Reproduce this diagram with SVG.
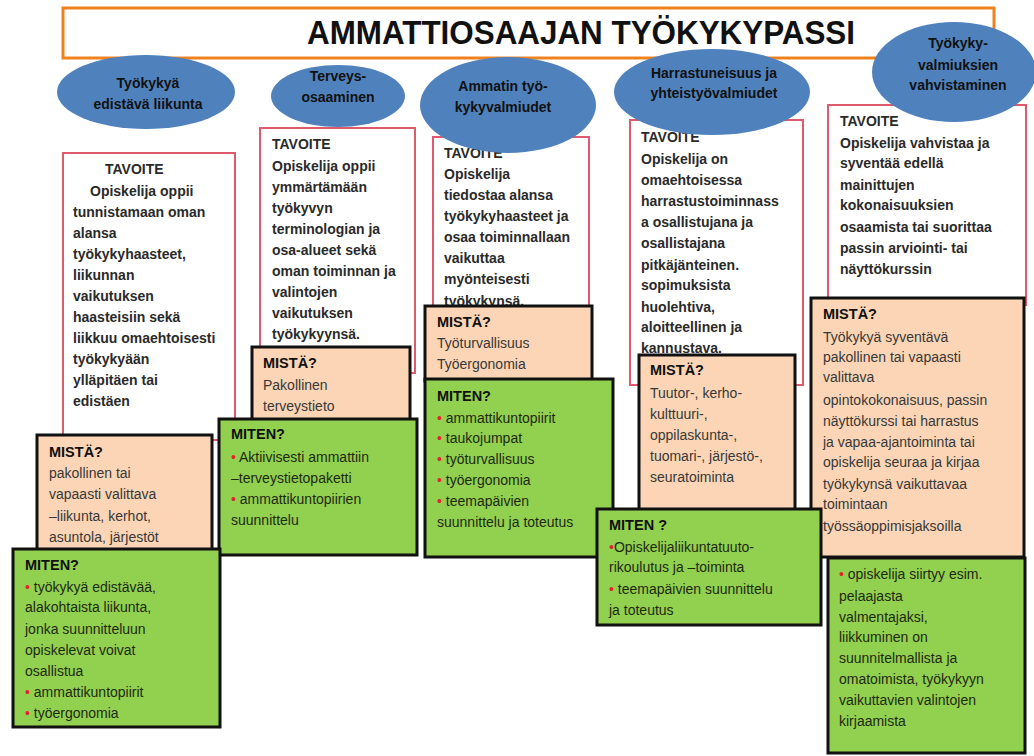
<svg xmlns="http://www.w3.org/2000/svg" width="1034" height="756" viewBox="0 0 1034 756">
<style>
text{font-family:"Liberation Sans",Arial,sans-serif}
.tav{font-size:14px;font-weight:bold;fill:#2a2a2a}
.bd{font-size:14px;fill:#383838}
.gb{font-size:14px;fill:#1e2a10}
.hd{font-size:14.5px;font-weight:bold;fill:#111}
.el{font-size:14px;font-weight:bold;fill:#111;text-anchor:middle}
.r{fill:#E8212E}
.tv{fill:#fff;stroke:#E05A6E;stroke-width:2}
.ms{fill:#FBD5B5;stroke:#111;stroke-width:3}
.mt{fill:#92D050;stroke:#111;stroke-width:3}
.ov{fill:#4F81BD}
</style>
<g id="title">
<rect x="63" y="8" width="931" height="50" fill="#fff" stroke="#F0821E" stroke-width="3"/>
<text x="581" y="44" text-anchor="middle" font-size="33" font-weight="bold" fill="#111" textLength="548" lengthAdjust="spacingAndGlyphs">AMMATTIOSAAJAN TYÖKYKYPASSI</text>
</g>
<g id="tavoite1">
<rect class="tv" x="63" y="153" width="172" height="287"/>
<text class="tav"><tspan x="105" y="174">TAVOITE</tspan><tspan x="90" y="196">Opiskelija oppii</tspan><tspan x="73" y="217">tunnistamaan oman</tspan><tspan x="73" y="238">alansa</tspan><tspan x="73" y="259">työkykyhaasteet,</tspan><tspan x="73" y="280">liikunnan</tspan><tspan x="73" y="301">vaikutuksen</tspan><tspan x="73" y="322">haasteisiin sekä</tspan><tspan x="73" y="343">liikkuu omaehtoisesti</tspan><tspan x="73" y="364">työkykyään</tspan><tspan x="73" y="385">ylläpitäen tai</tspan><tspan x="73" y="406">edistäen</tspan></text>
</g>
<g id="tavoite2">
<rect class="tv" x="260" y="128" width="155" height="245"/>
<text class="tav"><tspan x="272" y="149">TAVOITE</tspan><tspan x="272" y="171">Opiskelija oppii</tspan><tspan x="272" y="192">ymmärtämään</tspan><tspan x="272" y="213">työkyvyn</tspan><tspan x="272" y="234">terminologian ja</tspan><tspan x="272" y="255">osa-alueet sekä</tspan><tspan x="272" y="276">oman toiminnan ja</tspan><tspan x="272" y="297">valintojen</tspan><tspan x="272" y="318">vaikutuksen</tspan><tspan x="272" y="339">työkykyynsä.</tspan></text>
</g>
<g id="tavoite3">
<rect class="tv" x="433" y="137" width="156" height="185"/>
<text class="tav"><tspan x="444" y="158">TAVOITE</tspan><tspan x="444" y="179">Opiskelija</tspan><tspan x="444" y="200">tiedostaa alansa</tspan><tspan x="444" y="221">työkykyhaasteet ja</tspan><tspan x="444" y="242">osaa toiminnallaan</tspan><tspan x="444" y="263">vaikuttaa</tspan><tspan x="444" y="284">myönteisesti</tspan><tspan x="444" y="306">työkykynsä.</tspan></text>
</g>
<g id="tavoite4">
<rect class="tv" x="630" y="120" width="173" height="265"/>
<text class="tav"><tspan x="641" y="142">TAVOITE</tspan><tspan x="641" y="164">Opiskelija on</tspan><tspan x="641" y="185">omaehtoisessa</tspan><tspan x="641" y="206">harrastustoiminnass</tspan><tspan x="641" y="227">a osallistujana ja</tspan><tspan x="641" y="248">osallistajana</tspan><tspan x="641" y="270">pitkäjänteinen.</tspan><tspan x="641" y="290">sopimuksista</tspan><tspan x="641" y="312">huolehtiva,</tspan><tspan x="641" y="332">aloitteellinen ja</tspan><tspan x="641" y="353">kannustava.</tspan></text>
</g>
<g id="tavoite5">
<rect class="tv" x="828" y="105" width="198" height="200"/>
<text class="tav"><tspan x="840" y="126">TAVOITE</tspan><tspan x="840" y="148">Opiskelija vahvistaa ja</tspan><tspan x="840" y="168">syventää edellä</tspan><tspan x="840" y="190">mainittujen</tspan><tspan x="840" y="210">kokonaisuuksien</tspan><tspan x="840" y="232">osaamista tai suorittaa</tspan><tspan x="840" y="253">passin arviointi- tai</tspan><tspan x="840" y="274">näyttökurssin</tspan></text>
</g>
<g id="ellipse1">
<ellipse class="ov" cx="146" cy="92" rx="89" ry="37"/>
<text class="el"><tspan x="148" y="88">Työkykyä</tspan><tspan x="148" y="109">edistävä liikunta</tspan></text>
</g>
<g id="ellipse2">
<ellipse class="ov" cx="338" cy="96" rx="67" ry="31"/>
<text class="el"><tspan x="338" y="81">Terveys-</tspan><tspan x="338" y="102">osaaminen</tspan></text>
</g>
<g id="ellipse3">
<ellipse class="ov" cx="508" cy="105" rx="88" ry="48"/>
<text class="el"><tspan x="503" y="91">Ammatin työ-</tspan><tspan x="503" y="112">kykyvalmiudet</tspan></text>
</g>
<g id="ellipse4">
<ellipse class="ov" cx="712" cy="92" rx="98" ry="43"/>
<text class="el"><tspan x="714" y="78">Harrastuneisuus ja</tspan><tspan x="714" y="98">yhteistyövalmiudet</tspan></text>
</g>
<g id="ellipse5">
<ellipse class="ov" cx="954" cy="72" rx="82" ry="50"/>
<text class="el"><tspan x="958" y="48">Työkyky-</tspan><tspan x="958" y="70">valmiuksien</tspan><tspan x="958" y="90">vahvistaminen</tspan></text>
</g>
<g id="mista1">
<rect class="ms" x="37" y="435" width="175" height="120"/>
<text class="hd" x="49" y="457">MISTÄ?</text>
<text class="bd"><tspan x="49" y="478">pakollinen tai</tspan><tspan x="49" y="499">vapaasti valittava</tspan><tspan x="49" y="521">–liikunta, kerhot,</tspan><tspan x="49" y="542">asuntola, järjestöt</tspan></text>
</g>
<g id="mista2">
<rect class="ms" x="252" y="347" width="158" height="80"/>
<text class="hd" x="263" y="368">MISTÄ?</text>
<text class="bd"><tspan x="263" y="390">Pakollinen</tspan><tspan x="263" y="411">terveystieto</tspan></text>
</g>
<g id="mista3">
<rect class="ms" x="425" y="306" width="167" height="75"/>
<text class="hd" x="437" y="327">MISTÄ?</text>
<text class="bd"><tspan x="437" y="348">Työturvallisuus</tspan><tspan x="437" y="369">Työergonomia</tspan></text>
</g>
<g id="mista4">
<rect class="ms" x="639" y="355" width="156" height="160"/>
<text class="hd" x="650" y="375">MISTÄ?</text>
<text class="bd"><tspan x="650" y="398">Tuutor-, kerho-</tspan><tspan x="650" y="419">kulttuuri-,</tspan><tspan x="650" y="440">oppilaskunta-,</tspan><tspan x="650" y="461">tuomari-, järjestö-,</tspan><tspan x="650" y="482">seuratoiminta</tspan></text>
</g>
<g id="mista5">
<rect class="ms" x="811" y="298" width="213" height="259"/>
<text class="hd" x="823" y="319">MISTÄ?</text>
<text class="bd"><tspan x="823" y="342">Työkykyä syventävä</tspan><tspan x="823" y="362">pakollinen tai vapaasti</tspan><tspan x="823" y="382">valittava</tspan><tspan x="823" y="405">opintokokonaisuus,  passin</tspan><tspan x="823" y="426">näyttökurssi tai harrastus</tspan><tspan x="823" y="447">ja vapaa-ajantoiminta tai</tspan><tspan x="823" y="467">opiskelija seuraa ja kirjaa</tspan><tspan x="823" y="489">työkykynsä vaikuttavaa</tspan><tspan x="823" y="509">toimintaan</tspan><tspan x="823" y="531">työssäoppimisjaksoilla</tspan></text>
</g>
<g id="miten2">
<rect class="mt" x="219" y="419" width="198" height="136"/>
<text class="hd" x="231" y="439">MITEN?</text>
<text class="gb"><tspan x="231" y="462"><tspan class="r">•</tspan> Aktiivisesti ammattiin</tspan><tspan x="231" y="483">–terveystietopaketti</tspan><tspan x="231" y="504"><tspan class="r">•</tspan> ammattikuntopiirien</tspan><tspan x="231" y="525">suunnittelu</tspan></text>
</g>
<g id="miten1">
<rect class="mt" x="13" y="549" width="207" height="178"/>
<text class="hd" x="25" y="570">MITEN?</text>
<text class="gb"><tspan x="25" y="592"><tspan class="r">•</tspan> työkykyä edistävää,</tspan><tspan x="25" y="612">alakohtaista liikunta,</tspan><tspan x="25" y="634">jonka suunnitteluun</tspan><tspan x="25" y="655">opiskelevat voivat</tspan><tspan x="25" y="676">osallistua</tspan><tspan x="25" y="697"><tspan class="r">•</tspan> ammattikuntopiirit</tspan><tspan x="25" y="718"><tspan class="r">•</tspan> työergonomia</tspan></text>
</g>
<g id="miten3">
<rect class="mt" x="425" y="379" width="188" height="178"/>
<text class="hd" x="437" y="401">MITEN?</text>
<text class="gb"><tspan x="437" y="423"><tspan class="r">•</tspan> ammattikuntopiirit</tspan><tspan x="437" y="443"><tspan class="r">•</tspan> taukojumpat</tspan><tspan x="437" y="464"><tspan class="r">•</tspan> työturvallisuus</tspan><tspan x="437" y="485"><tspan class="r">•</tspan> työergonomia</tspan><tspan x="437" y="506"><tspan class="r">•</tspan> teemapäivien</tspan><tspan x="437" y="527">suunnittelu ja toteutus</tspan></text>
</g>
<g id="miten5">
<rect class="mt" x="828" y="558" width="197" height="195"/>
<text class="gb"><tspan x="839" y="579"><tspan class="r">•</tspan> opiskelija siirtyy esim.</tspan><tspan x="839" y="601">pelaajasta</tspan><tspan x="839" y="622">valmentajaksi,</tspan><tspan x="839" y="642">liikkuminen on</tspan><tspan x="839" y="663">suunnitelmallista ja</tspan><tspan x="839" y="684">omatoimista, työkykyyn</tspan><tspan x="839" y="705">vaikuttavien valintojen</tspan><tspan x="839" y="726">kirjaamista</tspan></text>
</g>
<g id="miten4">
<rect class="mt" x="597" y="509" width="224" height="116"/>
<text class="hd" x="609" y="530">MITEN ?</text>
<text class="gb"><tspan x="609" y="552"><tspan class="r">•</tspan>Opiskelijaliikuntatuuto-</tspan><tspan x="609" y="572">rikoulutus ja –toiminta</tspan><tspan x="609" y="594"><tspan class="r">•</tspan> teemapäivien suunnittelu</tspan><tspan x="609" y="615">ja toteutus</tspan></text>
</g>
<g id="connectors"></g>
</svg>
